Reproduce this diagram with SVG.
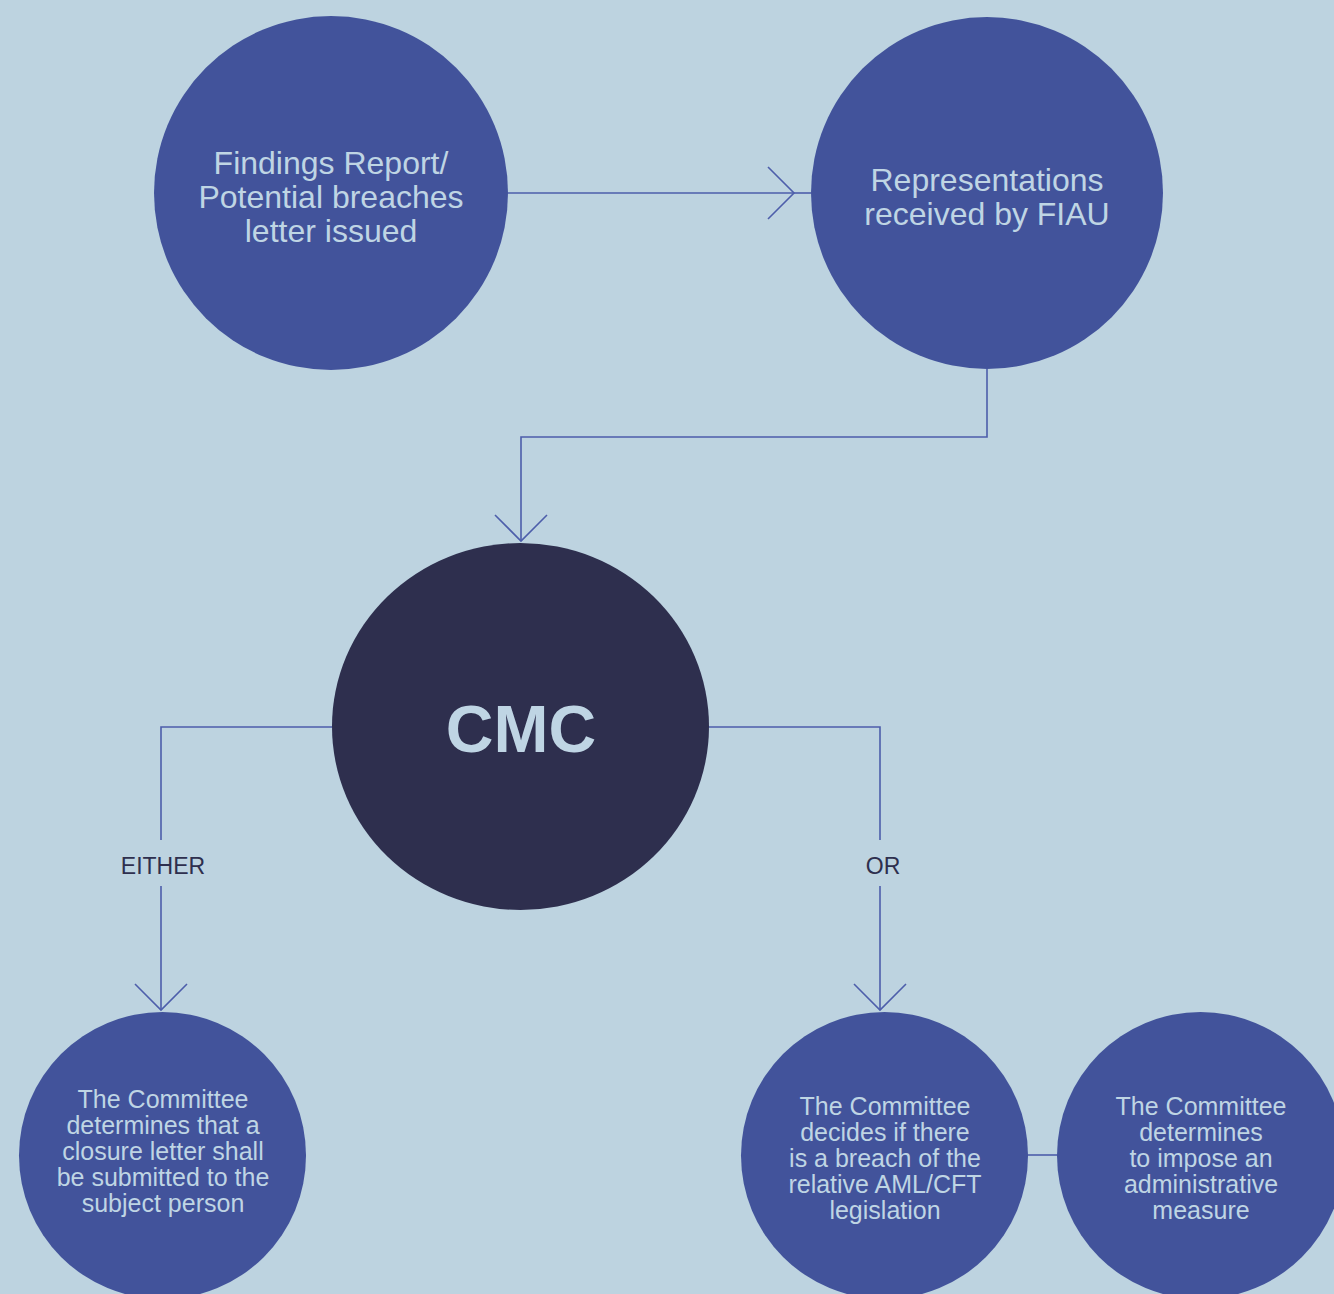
<svg xmlns="http://www.w3.org/2000/svg" width="1334" height="1294" viewBox="0 0 1334 1294">
<style>
.bg{fill:#BDD3E0}
.node{fill:#42539B}
.cmc{fill:#2E2F4E}
.conn{fill:none;stroke:#4D5EAB;stroke-width:1.6}
.t{font-family:"Liberation Sans",Arial,Helvetica,sans-serif;fill:#BFD5E4;text-anchor:middle}
.big{font-size:32px}
.small{font-size:25px}
.lbl{font-family:"Liberation Sans",Arial,Helvetica,sans-serif;fill:#2E2F4E;font-size:23px;text-anchor:middle}
.cmct{font-family:"Liberation Sans",Arial,Helvetica,sans-serif;fill:#BFD5E4;font-size:66px;font-weight:bold;text-anchor:middle}
</style>
<defs>
<marker id="chev" markerUnits="userSpaceOnUse" viewBox="-30 -30 32 60" refX="0" refY="0" markerWidth="32" markerHeight="60" orient="auto">
<path d="M-26,-26 L0,0 L-26,26" fill="none" stroke="#4D5EAB" stroke-width="1.6"/>
</marker>
</defs>
<rect class="bg" x="0" y="0" width="1334" height="1294"/>
<g id="connectors">
<path class="conn" d="M508,193 H794" marker-end="url(#chev)"/>
<path class="conn" d="M794,193 H811"/>
<path class="conn" d="M987,369 V437 H521 V541" marker-end="url(#chev)"/>
<path class="conn" d="M332,727 H161 V840"/>
<path class="conn" d="M161,886 V1010" marker-end="url(#chev)"/>
<path class="conn" d="M709,727 H880 V840"/>
<path class="conn" d="M880,886 V1010" marker-end="url(#chev)"/>
<path class="conn" d="M1028,1155 H1057"/>
<text class="lbl" x="163" y="874">EITHER</text>
<text class="lbl" x="883" y="874">OR</text>
</g>
<g id="n-findings">
<circle class="node" cx="331" cy="193" r="177"/>
<text class="t big" x="331" y="174">Findings Report/</text>
<text class="t big" x="331" y="208">Potential breaches</text>
<text class="t big" x="331" y="242">letter issued</text>
</g>
<g id="n-representations">
<circle class="node" cx="987" cy="193" r="176"/>
<text class="t big" x="987" y="191">Representations</text>
<text class="t big" x="987" y="225">received by FIAU</text>
</g>
<g id="n-cmc">
<ellipse class="cmc" cx="520.5" cy="726.5" rx="188.5" ry="183.5"/>
<text class="cmct" x="521" y="752">CMC</text>
</g>
<g id="n-closure">
<circle class="node" cx="162.5" cy="1155.5" r="143.5"/>
<text class="t small" x="163" y="1108">The Committee</text>
<text class="t small" x="163" y="1134">determines that a</text>
<text class="t small" x="163" y="1160">closure letter shall</text>
<text class="t small" x="163" y="1186">be submitted to the</text>
<text class="t small" x="163" y="1212">subject person</text>
</g>
<g id="n-breach">
<circle class="node" cx="884.5" cy="1155.5" r="143.5"/>
<text class="t small" x="885" y="1115">The Committee</text>
<text class="t small" x="885" y="1141">decides if there</text>
<text class="t small" x="885" y="1167">is a breach of the</text>
<text class="t small" x="885" y="1193">relative AML/CFT</text>
<text class="t small" x="885" y="1219">legislation</text>
</g>
<g id="n-measure">
<circle class="node" cx="1200.5" cy="1155.5" r="143.5"/>
<text class="t small" x="1201" y="1115">The Committee</text>
<text class="t small" x="1201" y="1141">determines</text>
<text class="t small" x="1201" y="1167">to impose an</text>
<text class="t small" x="1201" y="1193">administrative</text>
<text class="t small" x="1201" y="1219">measure</text>
</g>
</svg>
